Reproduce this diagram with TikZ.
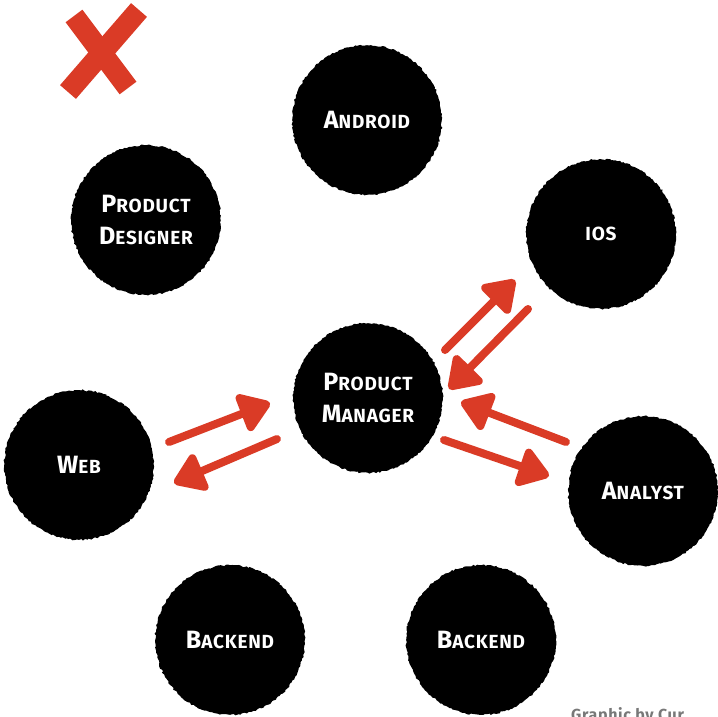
\documentclass[tikz,border=0pt]{standalone}
\usepackage{fontspec}
\setmainfont{Fira Sans}[LetterSpace=4]
\usetikzlibrary{arrows.meta,decorations.pathmorphing}
\definecolor{xred}{RGB}{218,59,38}
\definecolor{credit}{RGB}{120,120,120}
\newcommand{\scw}[2]{{\fontsize{25}{28}\selectfont #1}{\fontsize{19}{22}\selectfont #2}}
\tikzset{
  blob/.style={circle,fill=black,draw=black,line width=1.5pt,minimum size=148pt,inner sep=0pt,
    text=white,font=\bfseries,align=center,
    decorate,decoration={random steps,segment length=2pt,amplitude=0.8pt}},
  redarrow/.style={draw=xred,line width=8pt,line cap=round,
    -{Triangle[length=34pt,width=44pt,round]}},
  xstroke/.style={draw=xred,line width=21pt,line cap=butt}
}
\begin{document}
\begin{tikzpicture}[x=1pt,y=-1pt]
\useasboundingbox (0,0) rectangle (718,717);
\fill[white] (0,0) rectangle (718,717);
% circles
\node[blob] (android) at (367,120) {\scw{A}{NDROID}};
\node[blob] (designer) at (146,220) {\scw{P}{RODUCT}\\[13pt]\scw{D}{ESIGNER}};
\node[blob] (ios) at (601,234) {\fontsize{19}{22}\selectfont IOS};
\node[blob] (pm) at (368,398) {\scw{P}{RODUCT}\\[13pt]\scw{M}{ANAGER}};
\node[blob] (web) at (79,465) {\scw{W}{EB}};
\node[blob] (analyst) at (643,491) {\scw{A}{NALYST}};
\node[blob] (backendl) at (230,640) {\scw{B}{ACKEND}};
\node[blob] (backendr) at (481,640) {\scw{B}{ACKEND}};
% arrow end points
\coordinate (a1s) at (445,350); \coordinate (a1e) at (515,280);
\coordinate (a2s) at (528,309); \coordinate (a2e) at (449,389);
\coordinate (a3s) at (169,442); \coordinate (a3e) at (270,403);
\coordinate (a4s) at (277,439); \coordinate (a4e) at (174,483);
\coordinate (a5s) at (566,442); \coordinate (a5e) at (461,402);
\coordinate (a6s) at (444,440); \coordinate (a6e) at (549,476);
\draw[redarrow] (a1s) -- (a1e);
\draw[redarrow] (a2s) -- (a2e);
\draw[redarrow] (a3s) -- (a3e);
\draw[redarrow] (a4s) -- (a4e);
\draw[redarrow] (a5s) -- (a5e);
\draw[redarrow] (a6s) -- (a6e);
% red cross
\coordinate (x1) at (74,16); \coordinate (x2) at (128,88);
\coordinate (x3) at (139,10); \coordinate (x4) at (68,92);
\draw[xstroke] (x1) -- (x2);
\draw[xstroke] (x3) -- (x4);
% credit
\node[anchor=north west,inner sep=0pt,text=credit,font=\fontsize{16}{18}\selectfont\bfseries] (credit) at (571,707) {Graphic by Cur};
\end{tikzpicture}
\end{document}
